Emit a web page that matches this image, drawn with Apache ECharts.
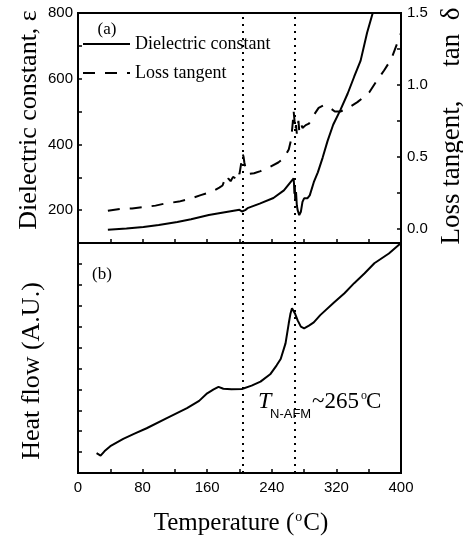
<!DOCTYPE html>
<html>
<head>
<meta charset="utf-8">
<script src="https://cdn.jsdelivr.net/npm/echarts@6/dist/echarts.min.js"></script>
<style>
html,body{margin:0;padding:0;background:#fff;}
#chart{width:463px;height:539px;}
</style>
</head>
<body>
<div id="chart"></div>
<script>
// ---- data ----
const tempDielectric = [37, 60, 81, 100, 123, 140, 162, 180, 200, 203, 205, 207, 210, 225, 242, 255, 267, 267.5, 268, 268.5, 269, 270, 271, 272, 274, 276, 278, 280, 284, 287, 292, 297, 303, 309, 316, 325, 334, 342, 350, 358, 365, 368];
const dielectric     = [140, 144, 149, 155, 164, 172, 185, 193, 201, 196, 193, 200, 206, 220, 237, 260, 297, 280, 250, 275, 230, 255, 215, 200, 185, 195, 225, 236, 236, 245, 285, 315, 360, 410, 460, 505, 555, 606, 655, 740, 800, 830];

const tempLoss    = [37, 52, 67, 79, 96, 108, 125, 137, 152, 166, 175, 179, 181, 183, 186, 189, 192, 195, 198, 200, 202, 204, 205, 206, 208, 211, 218, 226, 238, 248, 255, 261, 264, 265, 266, 267, 268, 269, 270, 271, 273, 274, 276, 278, 282, 286, 292, 298, 305, 312, 318, 325, 334, 346, 355, 361, 369, 379, 388, 394, 400];
const lossTangent = [0.125, 0.137, 0.140, 0.148, 0.160, 0.175, 0.188, 0.205, 0.233, 0.258, 0.285, 0.30, 0.33, 0.31, 0.35, 0.33, 0.36, 0.35, 0.40, 0.38, 0.45, 0.52, 0.50, 0.46, 0.41, 0.38, 0.385, 0.40, 0.43, 0.46, 0.49, 0.55, 0.62, 0.68, 0.74, 0.82, 0.76, 0.68, 0.72, 0.66, 0.75, 0.68, 0.73, 0.70, 0.72, 0.73, 0.79, 0.84, 0.86, 0.84, 0.815, 0.815, 0.837, 0.88, 0.92, 0.95, 1.02, 1.10, 1.18, 1.27, 1.36];

const tempHeat = [23, 28, 33, 40, 56, 70, 85, 110, 135, 150, 160, 168, 174, 180, 190, 203, 215, 226, 238, 246, 251, 257, 261, 263, 265, 267, 269, 272, 276, 280, 286, 292, 300, 317, 330, 342, 355, 367, 385, 400];
const heatFlow = [0.95, 0.83, 1.05, 1.28, 1.63, 1.88, 2.14, 2.62, 3.10, 3.45, 3.81, 4.00, 4.12, 4.03, 4.00, 4.02, 4.18, 4.37, 4.72, 5.15, 5.45, 6.20, 7.16, 7.60, 7.88, 7.85, 7.60, 7.30, 7.00, 6.92, 7.05, 7.20, 7.55, 8.15, 8.60, 9.08, 9.55, 10.03, 10.50, 11.00];

const xTickLabels = [0, 80, 160, 240, 320, 400];
const leftTickLabels = [200, 400, 600, 800];
const rightTickLabels = [0.0, 0.5, 1.0, 1.5];
const rightTickMarks = [0, 0.25, 0.5, 0.75, 1.0, 1.25, 1.5];
const transitionTemps = [204, 268];
const seriesNames = ['Dielectric constant', 'Loss tangent'];

// ---- chart ----
const zip = (xs, ys) => xs.map((x, i) => [x, ys[i]]);
const SERIF = 'Liberation Serif';
const SANS = 'Liberation Sans';
const black = '#000';

const chart = echarts.init(document.getElementById('chart'), null, {renderer: 'canvas'});

const markLines = {
  silent: true,
  symbol: ['none', 'none'],
  label: {show: false},
  lineStyle: {color: black, type: [2, 5], width: 2, cap: 'butt'},
  data: transitionTemps.map(t => ({xAxis: t}))
};

const xBase = {
  type: 'value', min: 0, max: 400, interval: 40,
  axisLine: {show: true, onZero: false, lineStyle: {color: black, width: 2}},
  axisTick: {show: true, inside: true, length: 4, lineStyle: {color: black, width: 1.5}},
  splitLine: {show: false}
};

const option = {
  animation: false,
  backgroundColor: '#fff',
  grid: [
    {left: 78, top: 13, width: 323, height: 230, show: true, borderColor: black, borderWidth: 2},
    {left: 78, top: 243, width: 323, height: 230, show: true, borderColor: black, borderWidth: 2}
  ],
  xAxis: [
    Object.assign({}, xBase, {gridIndex: 0, position: 'bottom', axisLabel: {show: false}}),
    Object.assign({}, xBase, {gridIndex: 1, position: 'bottom',
      axisLabel: {show: true, margin: 7, color: black, fontFamily: SANS, fontSize: 15,
        formatter: v => xTickLabels.includes(v) ? String(v) : ''}})
  ],
  yAxis: [
    {gridIndex: 0, type: 'value', min: 100, max: 800, interval: 100, position: 'left',
      axisLine: {show: true, onZero: false, lineStyle: {color: black, width: 2}},
      axisTick: {show: true, inside: true, length: 4, lineStyle: {color: black, width: 1.5}},
      axisLabel: {margin: 5, color: black, fontFamily: SANS, fontSize: 15,
        formatter: v => leftTickLabels.includes(v) ? String(v) : ''},
      splitLine: {show: false}},
    {gridIndex: 0, type: 'value', min: -0.1, max: 1.5, position: 'right',
      axisLine: {show: true, onZero: false, lineStyle: {color: black, width: 2}},
      axisTick: {show: true, inside: true, length: 4, customValues: rightTickMarks, lineStyle: {color: black, width: 1.5}},
      axisLabel: {margin: 6, color: black, fontFamily: SANS, fontSize: 15, customValues: rightTickLabels,
        formatter: v => Number(v).toFixed(1)},
      splitLine: {show: false}},
    {gridIndex: 1, type: 'value', min: 0, max: 11, interval: 1, position: 'left',
      axisLine: {show: true, onZero: false, lineStyle: {color: black, width: 2}},
      axisTick: {show: true, inside: true, length: 4, lineStyle: {color: black, width: 1.5}},
      axisLabel: {show: false},
      splitLine: {show: false}}
  ],
  legend: {
    data: seriesNames,
    orient: 'vertical', left: 82, top: 35, padding: 0,
    itemWidth: 47, itemHeight: 14, itemGap: 11,
    itemStyle: {color: 'transparent', borderWidth: 0, opacity: 0},
    textStyle: {color: black, fontFamily: SERIF, fontSize: 18},
    selectedMode: false
  },
  series: [
    {name: seriesNames[0], type: 'line', xAxisIndex: 0, yAxisIndex: 0, data: zip(tempDielectric, dielectric),
      symbol: 'none', showSymbol: false, clip: true,
      lineStyle: {color: black, width: 2}, itemStyle: {color: black},
      markLine: markLines},
    {name: seriesNames[1], type: 'line', xAxisIndex: 0, yAxisIndex: 1, data: zip(tempLoss, lossTangent),
      symbol: 'none', showSymbol: false,
      lineStyle: {color: black, width: 2, type: [12, 10]}, itemStyle: {color: black}},
    {name: 'Heat flow', type: 'line', xAxisIndex: 1, yAxisIndex: 2, data: zip(tempHeat, heatFlow),
      symbol: 'none', showSymbol: false,
      lineStyle: {color: black, width: 2}, itemStyle: {color: black},
      markLine: markLines}
  ],
  graphic: [
    {type: 'text', x: 29, y: 120, rotation: Math.PI / 2,
      style: {text: 'Dielectric constant, ε', fill: black, font: '26px "Liberation Serif"', align: 'center', verticalAlign: 'middle'}},
    {type: 'text', x: 452, y: 126, rotation: Math.PI / 2,
      style: {text: 'Loss tangent,     tan  δ', fill: black, font: '27px "Liberation Serif"', align: 'center', verticalAlign: 'middle'}},
    {type: 'text', x: 32, y: 371, rotation: Math.PI / 2,
      style: {text: 'Heat flow (A.U.)', fill: black, font: '26px "Liberation Serif"', align: 'center', verticalAlign: 'middle'}},
    {type: 'text', x: 241, y: 523,
      style: {text: '{n|Temperature (}{s|o}{n|C)}', align: 'center', verticalAlign: 'middle',
        rich: {n: {fill: black, font: '25px "Liberation Serif"'},
               s: {fill: black, font: '14px "Liberation Serif"', verticalAlign: 'top', padding: [0, 1, 12, 1]}}}},
    {type: 'text', x: 107, y: 30,
      style: {text: '(a)', fill: black, font: '17px "Liberation Serif"', align: 'center', verticalAlign: 'middle'}},
    {type: 'text', x: 102, y: 275,
      style: {text: '(b)', fill: black, font: '17px "Liberation Serif"', align: 'center', verticalAlign: 'middle'}},
    {type: 'text', x: 258, y: 402,
      style: {text: 'T', fill: black, font: 'italic 24px "Liberation Serif"', align: 'left', verticalAlign: 'middle'}},
    {type: 'text', x: 270, y: 414,
      style: {text: 'N-AFM', fill: black, font: '13px "Liberation Sans"', align: 'left', verticalAlign: 'middle'}},
    {type: 'text', x: 312, y: 402,
      style: {text: '~265', fill: black, font: '23px "Liberation Serif"', align: 'left', verticalAlign: 'middle'}},
    {type: 'text', x: 361, y: 396,
      style: {text: 'o', fill: black, font: '12px "Liberation Serif"', align: 'left', verticalAlign: 'middle'}},
    {type: 'text', x: 366, y: 402,
      style: {text: 'C', fill: black, font: '23px "Liberation Serif"', align: 'left', verticalAlign: 'middle'}}
  ]
};
chart.setOption(option);
</script>
</body>
</html>
